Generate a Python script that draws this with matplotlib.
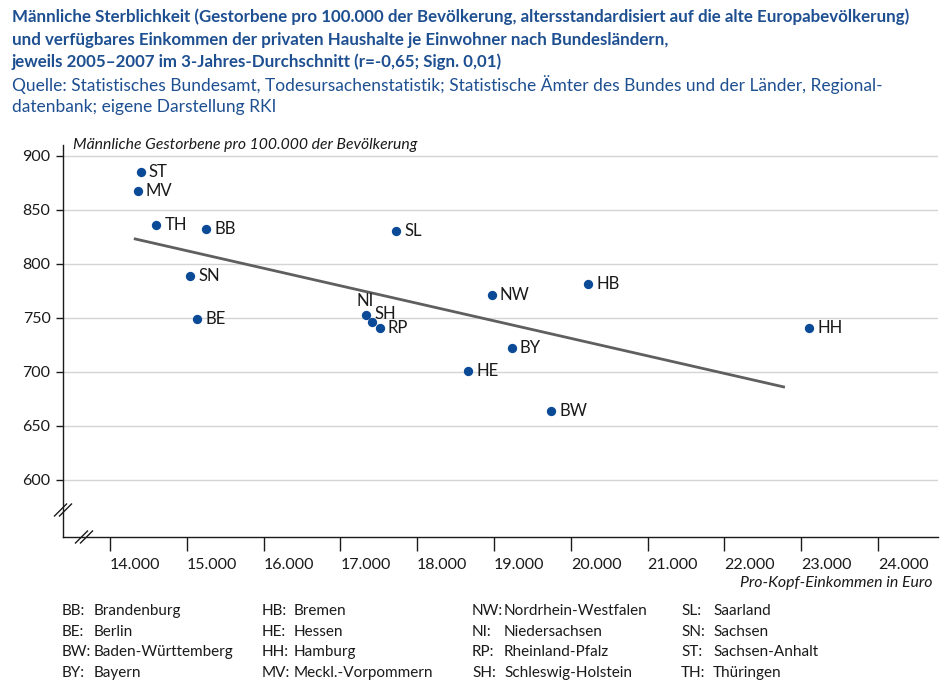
import numpy as np
import matplotlib.pyplot as plt

plt.rcParams['font.family'] = ['Lato', 'DejaVu Sans']

# -----------------------------
# Data
# -----------------------------
states = ["ST", "MV", "TH", "BB", "SN", "BE", "SL", "NI", "SH", "RP",
          "NW", "HB", "HE", "BY", "BW", "HH"]
income = [14400, 14360, 14600, 15250, 15040, 15140, 17730, 17340, 17410, 17510,
          18970, 20220, 18660, 19230, 19740, 23100]
deaths = [885, 867, 836, 832, 789, 749, 830, 753, 746, 741,
          771, 781, 701, 722, 664, 741]

# trend line end points
trend_x = [14330, 22770]
trend_y = [823, 686]

x_ticks = [14000, 15000, 16000, 17000, 18000, 19000, 20000, 21000, 22000, 23000, 24000]
y_ticks = [600, 650, 700, 750, 800, 850, 900]

legend_cols = [
    [("BB:", "Brandenburg"), ("BE:", "Berlin"), ("BW:", "Baden-Württemberg"), ("BY:", "Bayern")],
    [("HB:", "Bremen"), ("HE:", "Hessen"), ("HH:", "Hamburg"), ("MV:", "Meckl.-Vorpommern")],
    [("NW:", "Nordrhein-Westfalen"), ("NI:", "Niedersachsen"), ("RP:", "Rheinland-Pfalz"), ("SH:", "Schleswig-Holstein")],
    [("SL:", "Saarland"), ("SN:", "Sachsen"), ("ST:", "Sachsen-Anhalt"), ("TH:", "Thüringen")],
]

# label offsets (points) for crowded points
offsets = {"NI": (-7, 10), "SH": (2, 6)}

blue = "#0b4a96"
title_blue = "#1d4f91"

W, H = 950, 695


def px(x, y):
    return x / W, 1 - y / H


fig = plt.figure(figsize=(9.5, 6.95), dpi=100)
ax = fig.add_axes([63 / W, 1 - 537 / H, (938 - 63) / W, (537 - 145) / H])

ax.set_xlim(13390, 24780)
ax.set_ylim(547, 910)

for yv in y_ticks:
    ax.axhline(yv, color="#d4d4d4", lw=1, zorder=0)

ax.plot(trend_x, trend_y, color="#5f5f5f", lw=2, zorder=2)
ax.scatter(income, deaths, s=45, color=blue, zorder=3, linewidths=0)

for s, xv, yv in zip(states, income, deaths):
    dx, dy = offsets.get(s, (6, 0))
    ax.annotate(s, (xv, yv), xytext=(dx, dy), textcoords="offset points",
                ha="left", va="center", fontsize=12, color="#1a1a1a")

for side in ["top", "right"]:
    ax.spines[side].set_visible(False)
for side in ["left", "bottom"]:
    ax.spines[side].set_color("#1a1a1a")
    ax.spines[side].set_linewidth(1)

ax.set_xticks(x_ticks)
ax.set_xticklabels([f"{v // 1000}.000" for v in x_ticks], ha="left")
ax.set_yticks(y_ticks)
ax.set_yticklabels([str(v) for v in y_ticks])
ax.tick_params(axis="x", length=10, width=1, direction="out", pad=5,
               labelsize=11.5, colors="#1a1a1a")
ax.tick_params(axis="y", length=5, width=1, direction="out", pad=4,
               labelsize=11.5, colors="#1a1a1a")

# axis break marks
for bx, by in [(63, 510), (84, 537)]:
    for d in (-2.5, 2.5):
        x0, y0 = px(bx + d - 6, by + 6)
        x1, y1 = px(bx + d + 6, by - 6)
        fig.add_artist(plt.Line2D([x0, x1], [y0, y1], color="#1a1a1a", lw=1))

# axis titles
fig.text(*px(73, 145), "Männliche Gestorbene pro 100.000 der Bevölkerung",
         style="italic", fontsize=11.3, ha="left", va="center", color="#1a1a1a")
fig.text(*px(933, 583), "Pro-Kopf-Einkommen in Euro",
         style="italic", fontsize=11.4, ha="right", va="center", color="#1a1a1a")

# title and source
title_lines = [
    "Männliche Sterblichkeit (Gestorbene pro 100.000 der Bevölkerung, altersstandardisiert auf die alte Europabevölkerung)",
    "und verfügbares Einkommen der privaten Haushalte je Einwohner nach Bundesländern,",
    "jeweils 2005–2007 im 3-Jahres-Durchschnitt (r=-0,65; Sign. 0,01)",
]
for i, t in enumerate(title_lines):
    fig.text(*px(12, 17 + i * 22.5), t, fontsize=12.2, fontweight="bold",
             color=title_blue, ha="left", va="center")
source_lines = [
    "Quelle: Statistisches Bundesamt, Todesursachenstatistik; Statistische Ämter des Bundes und der Länder, Regional-",
    "datenbank; eigene Darstellung RKI",
]
for i, t in enumerate(source_lines):
    fig.text(*px(12, 85 + i * 22), t, fontsize=12.5, color=title_blue,
             ha="left", va="center")

# legend of abbreviations
col_x = [62, 262, 472, 681]
row_y = [611, 632, 652, 673]
for cx, col in zip(col_x, legend_cols):
    for ry, (abbr, name) in zip(row_y, col):
        fig.text(*px(cx, ry), abbr, fontsize=11, color="#1a1a1a", ha="left", va="center")
        fig.text(*px(cx + 32, ry), name, fontsize=11, color="#1a1a1a", ha="left", va="center")

fig.savefig("out.png", dpi=100)
